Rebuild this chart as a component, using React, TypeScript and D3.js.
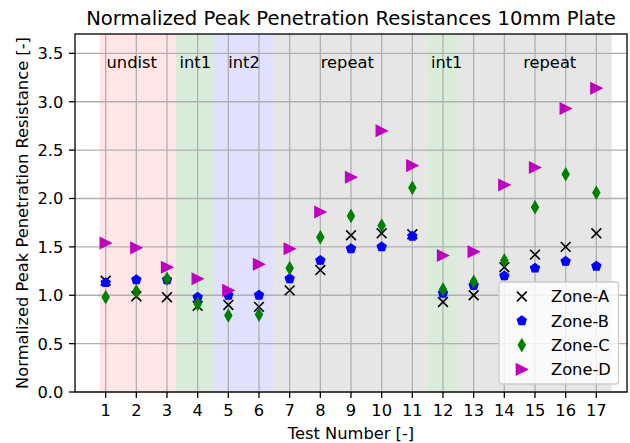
import React from "react";
import * as d3 from "d3";

const tests = [1, 2, 3, 4, 5, 6, 7, 8, 9, 10, 11, 12, 13, 14, 15, 16, 17];
const zoneA = [1.15, 0.99, 0.98, 0.89, 0.9, 0.88, 1.05, 1.26, 1.62, 1.64, 1.63, 0.93, 1.0, 1.29, 1.42, 1.5, 1.64];
const zoneB = [1.13, 1.16, 1.16, 0.98, 1.0, 1.0, 1.17, 1.36, 1.48, 1.5, 1.61, 1.02, 1.1, 1.2, 1.28, 1.35, 1.3];
const zoneC = [0.98, 1.04, 1.17, 0.91, 0.79, 0.8, 1.28, 1.6, 1.82, 1.72, 2.11, 1.06, 1.14, 1.36, 1.91, 2.25, 2.06];
const zoneD = [1.54, 1.49, 1.29, 1.17, 1.05, 1.32, 1.48, 1.86, 2.22, 2.7, 2.34, 1.41, 1.45, 2.14, 2.32, 2.93, 3.14];
const yTicks = [0, 0.5, 1.0, 1.5, 2.0, 2.5, 3.0, 3.5];

const spanStart = [0.8, 3.3, 4.5, 6.5, 11.5, 12.5];
const spanEnd = [3.3, 4.5, 6.5, 11.5, 12.5, 17.5];
const spanColors = ["#ff0000", "#008000", "#0000ff", "#808080", "#008000", "#808080"];
const spanOpacity = [0.1, 0.15, 0.12, 0.2, 0.15, 0.2];
const spanLabels = ["undist", "int1", "int2", "repeat", "int1", "repeat"];
const spanLabelX = [1.85, 3.92, 5.51, 8.88, 12.12, 15.48];

const FONT = "DejaVu Sans";

type Shape = "x" | "p" | "d" | ">";

function markerPath(shape: Shape): string {
  if (shape === "x") {
    const h = 4.9;
    return `M${-h},${-h}L${h},${h}M${-h},${h}L${h},${-h}`;
  }
  if (shape === "p") {
    const r = 4.7;
    const pts = d3.range(5).map((i) => {
      const a = -Math.PI / 2 + (i * 2 * Math.PI) / 5;
      return [r * Math.cos(a), r * Math.sin(a)];
    });
    return "M" + pts.map((p) => p.join(",")).join("L") + "Z";
  }
  if (shape === "d") {
    return "M0,-6L3.5,0L0,6L-3.5,0Z";
  }
  return "M5.5,0L-5.5,-5.5L-5.5,5.5Z";
}

const series = [
  { name: "Zone-A", values: zoneA, shape: "x" as Shape, color: "#000000" },
  { name: "Zone-B", values: zoneB, shape: "p" as Shape, color: "#0000ff" },
  { name: "Zone-C", values: zoneC, shape: "d" as Shape, color: "#008000" },
  { name: "Zone-D", values: zoneD, shape: ">" as Shape, color: "#bf00bf" },
];

function Marker({ shape, color, x, y }: { shape: Shape; color: string; x: number; y: number }) {
  const d = markerPath(shape);
  if (shape === "x") {
    return <path d={d} transform={`translate(${x},${y})`} stroke={color} strokeWidth={1.6} fill="none" />;
  }
  return <path d={d} transform={`translate(${x},${y})`} stroke={color} strokeWidth={1.3} fill={color} strokeLinejoin="miter" />;
}

export default function App() {
  const W = 630;
  const H = 443;
  const left = 75;
  const right = 627;
  const top = 34;
  const bottom = 392;
  const x = d3.scaleLinear().domain([0, 18]).range([left, right]);
  const y = d3.scaleLinear().domain([0, 3.7]).range([bottom, top]);
  const fs = 16.3;

  const legX = 499;
  const legY = 282;
  const legW = 119.5;
  const legH = 102;

  return (
    <svg width={W} height={H} style={{ position: "absolute", left: 0, top: 0 }} fontFamily={FONT}>
      <rect x={0} y={0} width={W} height={H} fill="#ffffff" />
      {spanStart.map((s, i) => (
        <rect
          key={"span" + i}
          x={x(s)}
          y={top}
          width={x(spanEnd[i]) - x(s)}
          height={bottom - top}
          fill={spanColors[i]}
          fillOpacity={spanOpacity[i]}
        />
      ))}
      {tests.map((t) => (
        <line key={"gx" + t} x1={x(t)} x2={x(t)} y1={top} y2={bottom} stroke="#b0b0b0" strokeWidth={1.3} />
      ))}
      {yTicks.map((v) => (
        <line key={"gy" + v} x1={left} x2={right} y1={y(v)} y2={y(v)} stroke="#b0b0b0" strokeWidth={1.3} />
      ))}
      {spanLabels.map((l, i) => (
        <text key={"sl" + i} x={x(spanLabelX[i])} y={68.3} fontSize={fs} textAnchor="middle" fill="#000">
          {l}
        </text>
      ))}
      {series.map((s) =>
        s.values.map((v, i) => (
          <Marker key={s.name + i} shape={s.shape} color={s.color} x={x(tests[i])} y={y(v)} />
        ))
      )}
      <rect x={left} y={top} width={right - left} height={bottom - top} fill="none" stroke="#000" strokeWidth={1.3} />
      {tests.map((t) => (
        <g key={"tx" + t}>
          <line x1={x(t)} x2={x(t)} y1={bottom} y2={bottom + 6} stroke="#000" strokeWidth={1.3} />
          <text x={x(t)} y={416} fontSize={fs} textAnchor="middle" fill="#000">
            {t}
          </text>
        </g>
      ))}
      {yTicks.map((v) => (
        <g key={"ty" + v}>
          <line x1={left - 6} x2={left} y1={y(v)} y2={y(v)} stroke="#000" strokeWidth={1.3} />
          <text x={63.3} y={y(v) + 5.9} fontSize={fs} textAnchor="end" fill="#000">
            {v.toFixed(1)}
          </text>
        </g>
      ))}
      <text x={(left + right) / 2} y={439} fontSize={fs} textAnchor="middle" fill="#000">
        Test Number [-]
      </text>
      <text
        transform={`translate(28,${(top + bottom) / 2}) rotate(-90)`}
        fontSize={fs}
        textAnchor="middle"
        fill="#000"
      >
        Normalized Peak Penetration Resistance [-]
      </text>
      <text x={(left + right) / 2} y={25} fontSize={19.6} textAnchor="middle" fill="#000">
        Normalized Peak Penetration Resistances 10mm Plate
      </text>
      <g>
        <rect
          x={legX}
          y={legY}
          width={legW}
          height={legH}
          rx={3}
          fill="#ffffff"
          fillOpacity={0.8}
          stroke="#cccccc"
          strokeWidth={1.3}
        />
        {series.map((s, i) => {
          const cy = legY + 14.5 + i * 24.3;
          return (
            <g key={"leg" + i}>
              <Marker shape={s.shape} color={s.color} x={legX + 22.8} y={cy} />
              <text x={legX + 52} y={cy + 5.9} fontSize={fs} fill="#000">
                {s.name}
              </text>
            </g>
          );
        })}
      </g>
    </svg>
  );
}
